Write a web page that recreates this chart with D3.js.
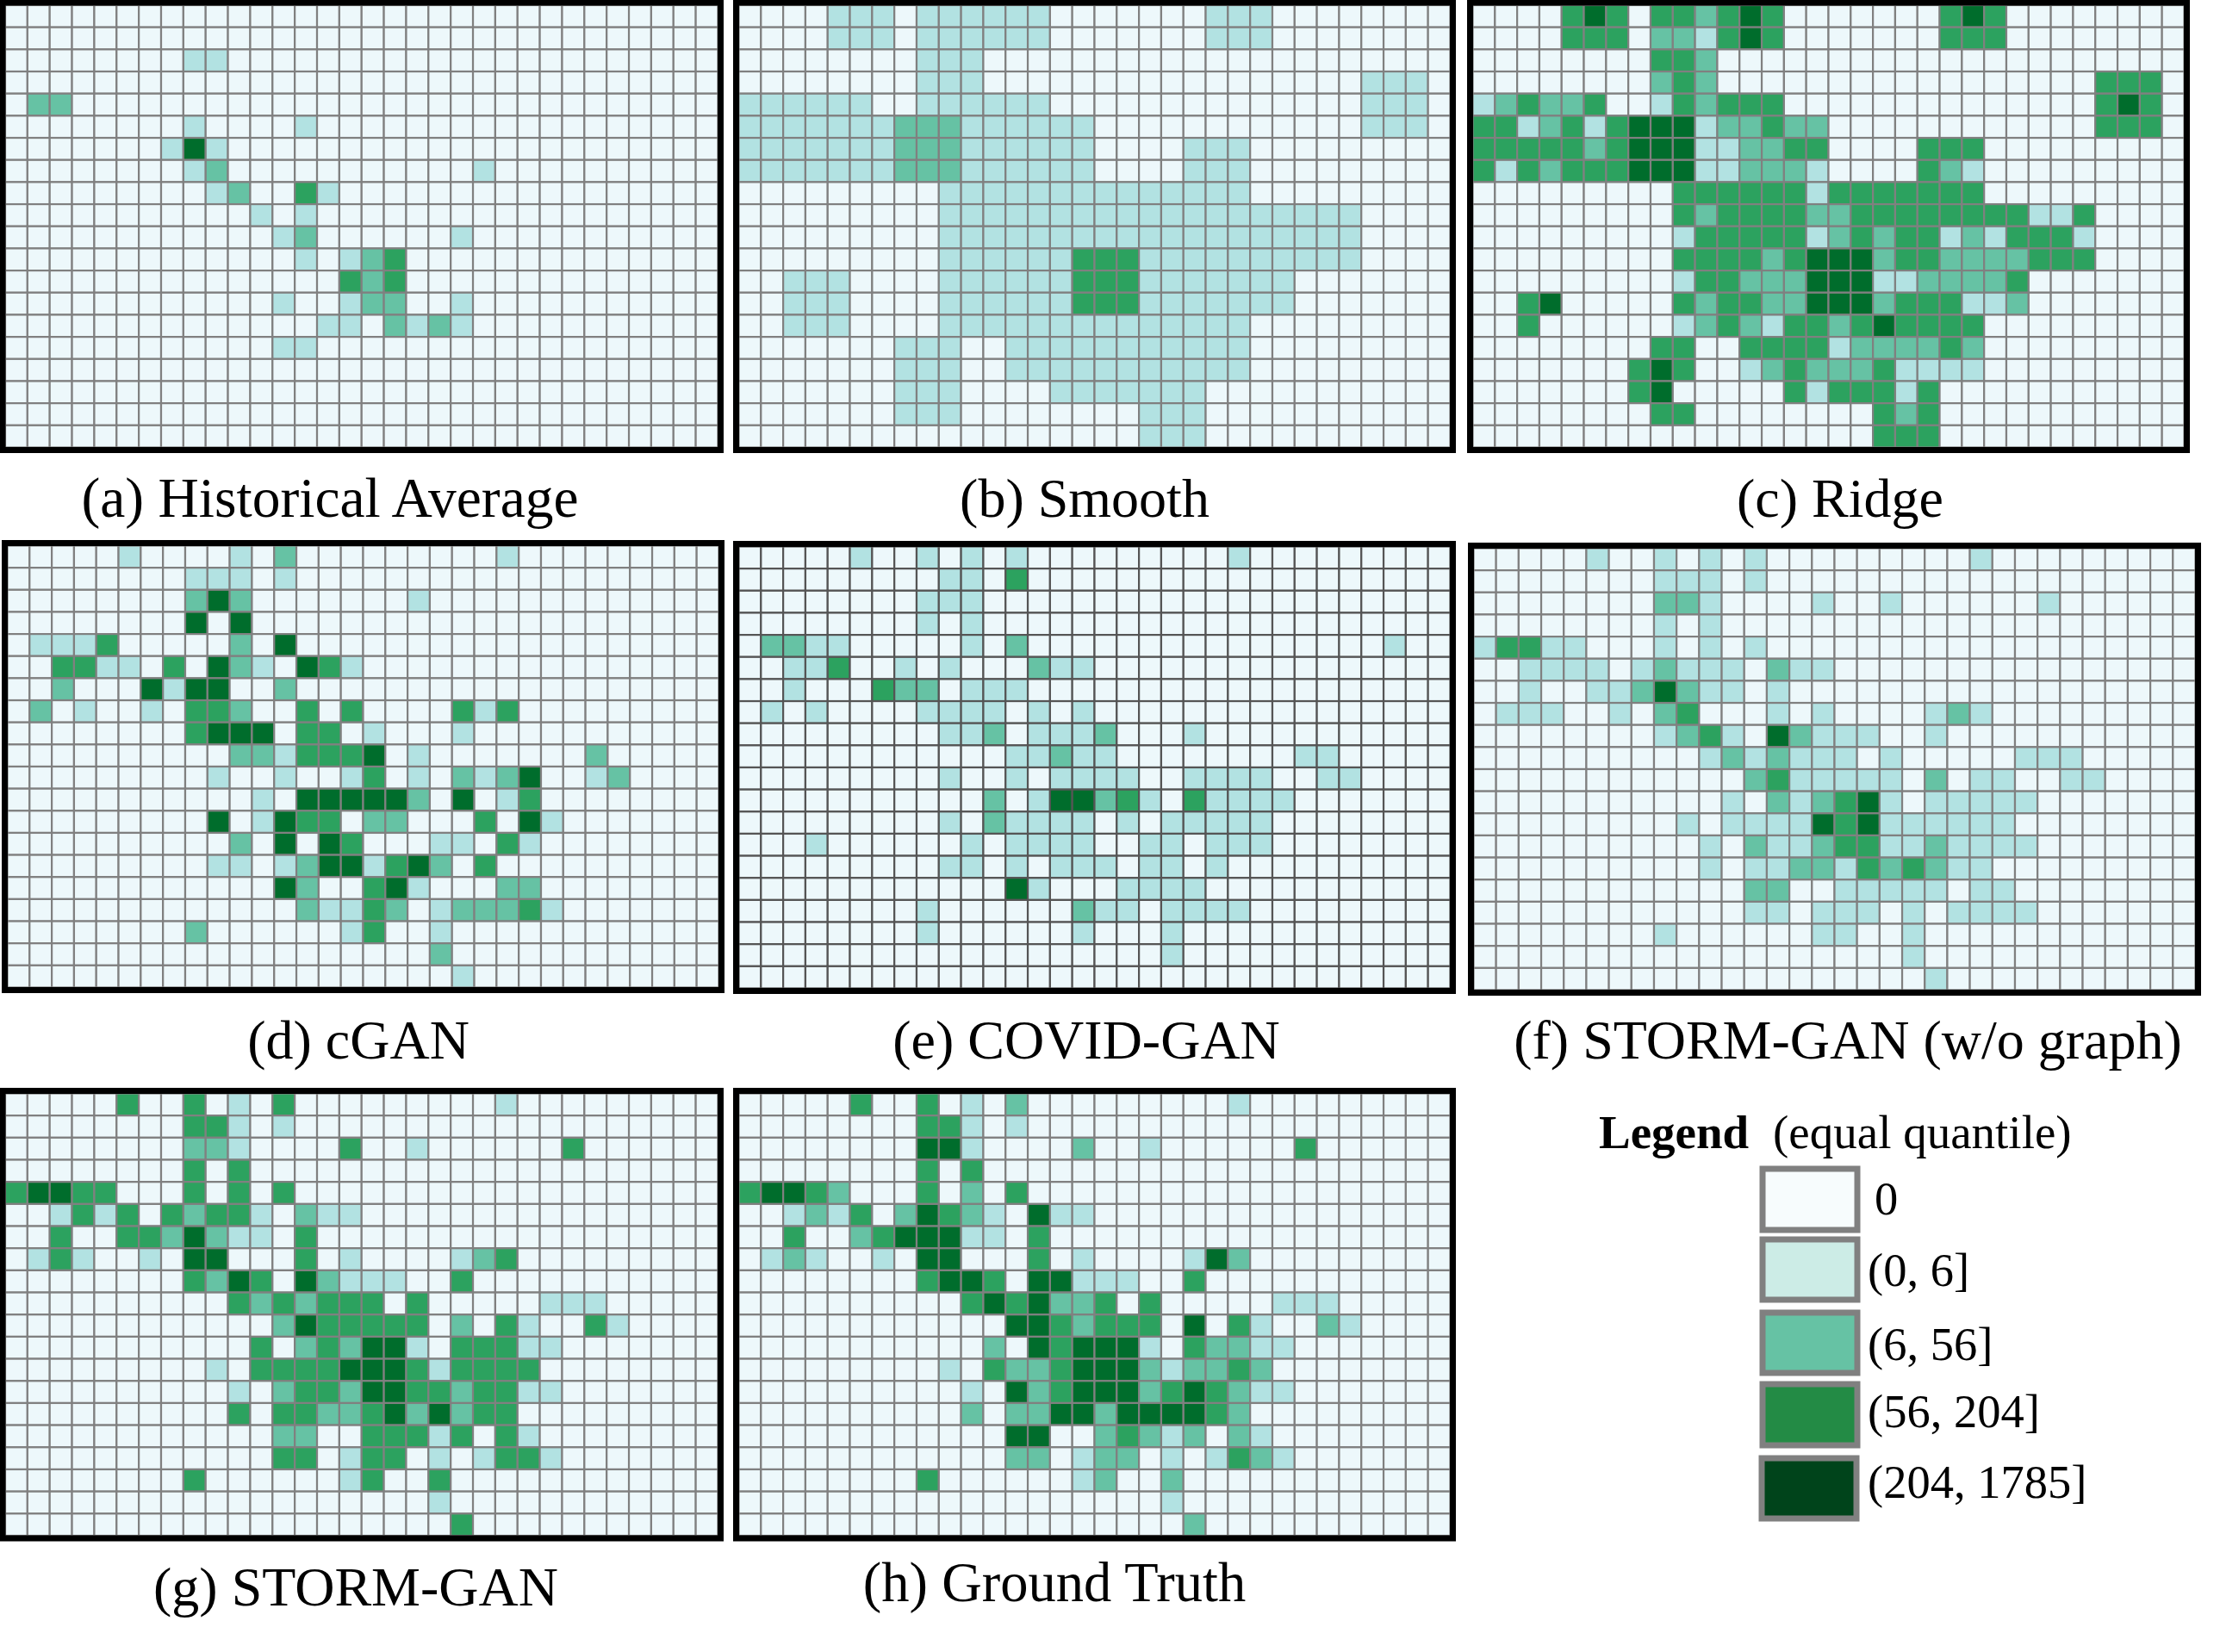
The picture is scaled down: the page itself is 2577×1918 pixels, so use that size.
<!DOCTYPE html>
<html lang="en">
<head>
<meta charset="utf-8">
<script src="https://d3js.org/d3.v7.min.js"></script>
<style>
    body { margin: 0; background: #fff; }
    text { font-family: "Liberation Serif", serif; fill: #000; }
</style>
</head>
<body>
<svg id="chart" width="2577" height="1918"></svg>
<script>
// quantile level of every grid cell: one string per row, 32 columns, spaces only for counting
var EMPTY = "00000000 00000000 00000000 00000000";

var historicalAverage = [
    EMPTY,
    EMPTY,
    "00000000 11000000 00000000 00000000",
    EMPTY,
    "02200000 00000000 00000000 00000000",
    "00000000 10000100 00000000 00000000",
    "00000001 41000000 00000000 00000000",
    "00000000 12000000 00000100 00000000",
    "00000000 01200310 00000000 00000000",
    "00000000 00010100 00000000 00000000",
    "00000000 00001200 00001000 00000000",
    "00000000 00000101 23000000 00000000",
    "00000000 00000003 23000000 00000000",
    "00000000 00001001 22001000 00000000",
    "00000000 00000011 02121000 00000000",
    "00000000 00001100 00000000 00000000",
    EMPTY,
    EMPTY,
    EMPTY,
    EMPTY
];

var smooth = [
    "00001110 11111100 00000111 00000000",
    "00001110 11111100 00000111 00000000",
    "00000000 11100000 00000000 00000000",
    "00000000 11100000 00000000 00001110",
    "11111100 11111100 00000000 00001110",
    "11111112 22111111 00000000 00001110",
    "11111112 22111111 00001110 00000000",
    "11111112 22111111 00001110 00000000",
    "00000000 01111111 11111110 00000000",
    "00000000 01111111 11111111 11110000",
    "00000000 01111111 11111111 11110000",
    "00000000 01111113 33111111 11110000",
    "00111000 01111113 33111111 10000000",
    "00111000 01111113 33111111 10000000",
    "00111000 01111111 11111110 00000000",
    "00000001 11001111 11111110 00000000",
    "00000001 11001111 11111110 00000000",
    "00000001 11000011 11111000 00000000",
    "00000001 11000000 00111000 00000000",
    "00000000 00000000 00111000 00000000"
];

var ridge = [
    "00003430 33234300 00000343 00000000",
    "00003330 22134300 00000333 00000000",
    "00000000 33200000 00000000 00000000",
    "00000000 23200000 00000000 00003330",
    "12322300 13233300 00000000 00003430",
    "33123134 44122322 00000000 00003330",
    "33333234 44112233 00003330 00000000",
    "31323334 44112221 00003210 00000000",
    "00000000 03333331 33333330 00000000",
    "00000000 03233332 23333333 31130000",
    "00000000 01333331 23233121 33310000",
    "00000000 03333234 44233222 23330000",
    "00000000 01332224 44112222 30000000",
    "00340000 03233224 44233311 20000000",
    "00300000 01232133 23433330 00000000",
    "00000000 33003333 12222320 00000000",
    "00000003 43001232 22311110 00000000",
    "00000003 40000031 33313000 00000000",
    "00000000 33000000 00323000 00000000",
    "00000000 00000000 00333000 00000000"
];

var cGan = [
    "00000100 00102000 00000010 00000000",
    "00000000 11101000 00000000 00000000",
    "00000000 24200000 00100000 00000000",
    "00000000 40400000 00000000 00000000",
    "01113000 00204000 00000000 00000000",
    "00331103 04210431 00000000 00000000",
    "00200041 44002000 00000000 00000000",
    "02010010 33200303 00003130 00000000",
    "00000000 34440330 10001000 00000000",
    "00000000 00221333 40100000 00200000",
    "00000000 01001001 30102124 00120000",
    "00000000 00010444 44204013 00000000",
    "00000000 04014330 22000304 10000000",
    "00000000 00204043 00011031 00000000",
    "00000000 01101244 13420300 00000000",
    "00000000 00004200 34100022 00000000",
    "00000000 00000211 32012223 10000000",
    "00000000 20000001 30010000 00000000",
    "00000000 00000000 00020000 00000000",
    "00000000 00000000 00001000 00000000"
];

var covidGan = [
    "00000100 10101000 00000010 00000000",
    "00000000 01103000 00000000 00000000",
    "00000000 11100000 00000000 00000000",
    "00000000 10100000 00000000 00000000",
    "02211000 00102000 00000000 00000100",
    "00113001 01000211 00000000 00000000",
    "00100032 20111000 00000000 00000000",
    "01010000 11110101 00000000 00000000",
    "00000000 01120111 20001000 00000000",
    "00000000 00001121 10000000 01100000",
    "00000000 01001011 11001111 00110000",
    "00000000 00020144 23103111 10000000",
    "00000000 01021111 01011111 00000000",
    "00010000 00101111 00110111 00000000",
    "00000000 01101011 10110100 00000000",
    "00000000 00004100 01111000 00000000",
    "00000000 10000002 11011110 00000000",
    "00000000 10000001 00010000 00000000",
    "00000000 00000000 00010000 00000000",
    EMPTY
];

var stormNoGraph = [
    "00000100 10101000 00000010 00000000",
    "00000000 11101000 00000000 00000000",
    "00000000 22100001 00100000 01000000",
    "00000000 10100000 00000000 00000000",
    "13311000 10101000 00000000 00000000",
    "00111101 21110211 00000000 00000000",
    "00100112 42110100 00000000 00000000",
    "01110010 23000101 00001210 00000000",
    "00000000 12310421 11001000 00000000",
    "00000000 00121211 10100000 11100000",
    "00000000 00002311 11102011 00110000",
    "00000000 00010212 34101111 10000000",
    "00000000 01011114 34111111 00000000",
    "00000000 00102112 33112111 10000000",
    "00000000 00101122 13232110 00000000",
    "00000000 00002200 11111011 00000000",
    "00000000 00001101 11010111 10000000",
    "00000000 10000001 10010000 00000000",
    "00000000 00000000 00010000 00000000",
    "00000000 00000000 00001000 00000000"
];

var stormGan = [
    "00000300 30103000 00000010 00000000",
    "00000000 33101000 00000000 00000000",
    "00000000 22100003 00100000 03000000",
    "00000000 30300000 00000000 00000000",
    "34433000 30303000 00000000 00000000",
    "00131303 23310211 00000000 00000000",
    "00300332 42110300 00000000 00000000",
    "01310010 44000301 00001230 00000000",
    "00000000 32430421 11003000 00000000",
    "00000000 00323233 30300000 11100000",
    "00000000 00002433 33302031 00310000",
    "00000000 00030232 44103331 10000000",
    "00000000 01033334 44313333 00000000",
    "00000000 00102332 44332331 10000000",
    "00000000 00303322 34242330 00000000",
    "00000000 00002200 33313031 00000000",
    "00000000 00003301 33010133 10000000",
    "00000000 30000001 30030000 00000000",
    "00000000 00000000 00010000 00000000",
    "00000000 00000000 00003000 00000000"
];

var groundTruth = [
    "00000300 30102000 00000010 00000000",
    "00000000 33101000 00000000 00000000",
    "00000000 44100002 00100000 03000000",
    "00000000 30300000 00000000 00000000",
    "34432000 30203000 00000000 00000000",
    "00121302 43210411 00000000 00000000",
    "00300234 44110300 00000000 00000000",
    "01210010 44000301 00001420 00000000",
    "00000000 34430441 11003000 00000000",
    "00000000 00343422 30300000 11100000",
    "00000000 00004432 33304031 00210000",
    "00000000 00020434 44103221 10000000",
    "00000000 01032234 44212232 00000000",
    "00000000 00104234 44234321 10000000",
    "00000000 00202244 24444320 00000000",
    "00000000 00004400 23212021 00000000",
    "00000000 00002201 22010132 10000000",
    "00000000 30000001 20020000 00000000",
    "00000000 00000000 00010000 00000000",
    "00000000 00000000 00002000 00000000"
];

var panelData = [historicalAverage, smooth, ridge, cGan, covidGan, stormNoGraph, stormGan, groundTruth];
var panelTitles = ["(a) Historical Average", "(b) Smooth", "(c) Ridge", "(d) cGAN", "(e) COVID-GAN",
    "(f) STORM-GAN (w/o graph)", "(g) STORM-GAN", "(h) Ground Truth"];
var legendLabels = ["0", "(0, 6]", "(6, 56]", "(56, 204]", "(204, 1785]"];
var levels = [0, 1, 2, 3, 4];

// placement of each panel frame and its caption, in picture pixels
var frames = [
    {x: 3, y: 3, w: 833.5, h: 519.5, tx: 383, ty: 600, fs: 65.5},
    {x: 854.5, y: 3, w: 832, h: 519.5, tx: 1259, ty: 600, fs: 64},
    {x: 1706.5, y: 3, w: 832, h: 519.5, tx: 2136, ty: 600, fs: 64},
    {x: 5.5, y: 630.5, w: 832, h: 519, tx: 416, ty: 1229, fs: 64},
    {x: 854.5, y: 631.5, w: 832, h: 519, tx: 1261, ty: 1229, fs: 64},
    {x: 1707.5, y: 633.5, w: 844, h: 519, tx: 2145, ty: 1229, fs: 64},
    {x: 3, y: 1266.5, w: 833.5, h: 519.5, tx: 413, ty: 1864, fs: 64},
    {x: 854.5, y: 1266.5, w: 832, h: 519.5, tx: 1224, ty: 1859, fs: 64.5}
];

var legendBoxes = [
    {x: 2046, y: 1357, w: 110, h: 71, tx: 2176, ty: 1410},
    {x: 2046, y: 1439, w: 110, h: 70, tx: 2168, ty: 1493},
    {x: 2046, y: 1524, w: 110, h: 70, tx: 2168, ty: 1579},
    {x: 2046, y: 1607, w: 110, h: 71, tx: 2168, ty: 1657},
    {x: 2045, y: 1693, w: 110, h: 70, tx: 2168, ty: 1739}
];

var cellColor = d3.scaleOrdinal().domain(levels).range(["#edf8fb", "#b2e2e2", "#66c2a4", "#2ca25f", "#006d2c"]);
var legendColor = d3.scaleOrdinal().domain(levels).range(["#f7fcfd", "#ccece6", "#66c2a4", "#238b45", "#00441b"]);

var svg = d3.select("#chart");

// Draws one panel: grid of cells, then the black frame and caption on top
function drawPanel(rows, frame, title, i) {
    var inset = 3;
    var nCols = rows[0].replace(/ /g, "").length;
    var x = d3.scaleBand().domain(d3.range(nCols)).range([frame.x + inset, frame.x + frame.w - inset]);
    var y = d3.scaleBand().domain(d3.range(rows.length)).range([frame.y + inset, frame.y + frame.h - inset]);

    var cells = [];
    rows.forEach(function (row, r) {
        row.replace(/ /g, "").split("").forEach(function (v, c) {
            cells.push({row: r, col: c, level: +v});
        });
    });

    var g = svg.append("g").attr("class", "panel");

    g.selectAll("rect.cell")
        .data(cells)
        .enter().append("rect")
        .attr("class", "cell")
        .attr("x", d => x(d.col))
        .attr("y", d => y(d.row))
        .attr("width", x.bandwidth())
        .attr("height", y.bandwidth())
        .style("fill", d => cellColor(d.level))
        .style("stroke", i == 4 ? "#555" : "#808080")
        .style("stroke-width", 2.2);

    g.append("rect")
        .attr("x", frame.x)
        .attr("y", frame.y)
        .attr("width", frame.w)
        .attr("height", frame.h)
        .style("fill", "none")
        .style("stroke", "#000")
        .style("stroke-width", 7);

    svg.append("text")
        .attr("x", frame.tx)
        .attr("y", frame.ty)
        .attr("text-anchor", "middle")
        .style("font-size", frame.fs + "px")
        .text(title);
}

panelData.forEach(function (rows, i) {
    drawPanel(rows, frames[i], panelTitles[i], i);
});

// Legend
svg.append("text").attr("x", 1856).attr("y", 1333)
    .style("font-size", "55px").style("font-weight", "bold").text("Legend");
svg.append("text").attr("x", 2058).attr("y", 1333)
    .style("font-size", "55px").text("(equal quantile)");

svg.selectAll("rect.swatch")
    .data(levels)
    .enter().append("rect")
    .attr("class", "swatch")
    .attr("x", d => legendBoxes[d].x)
    .attr("y", d => legendBoxes[d].y)
    .attr("width", d => legendBoxes[d].w)
    .attr("height", d => legendBoxes[d].h)
    .style("fill", d => legendColor(d))
    .style("stroke", "#808080")
    .style("stroke-width", 7);

svg.selectAll("text.swatchLabel")
    .data(levels)
    .enter().append("text")
    .attr("class", "swatchLabel")
    .attr("x", d => legendBoxes[d].tx)
    .attr("y", d => legendBoxes[d].ty)
    .style("font-size", "54.5px")
    .text(d => legendLabels[d]);
</script>
</body>
</html>
